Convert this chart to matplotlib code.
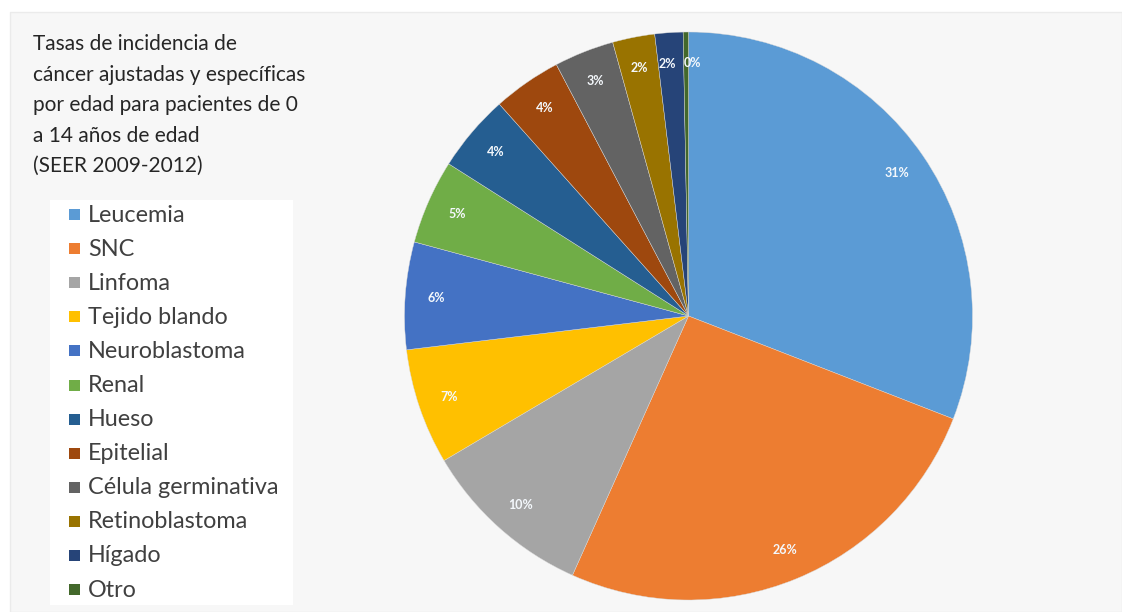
import matplotlib.pyplot as plt
import matplotlib.transforms as mtransforms
from matplotlib.patches import Rectangle

# Data
categories = ['Leucemia', 'SNC', 'Linfoma', 'Tejido blando', 'Neuroblastoma',
              'Renal', 'Hueso', 'Epitelial', 'Célula germinativa',
              'Retinoblastoma', 'Hígado', 'Otro']
shares = [30.9, 25.8, 9.8, 6.6, 6.1, 4.8, 4.4, 3.9, 3.4, 2.4, 1.6, 0.3]
colors = ['#5B9BD5', '#ED7D31', '#A5A5A5', '#FFC000', '#4472C4', '#70AD47',
          '#255E91', '#9E480E', '#636363', '#997300', '#264478', '#43682B']
title = ('Tasas de incidencia de\ncáncer ajustadas y específicas\n'
         'por edad para pacientes de 0\na 14 años de edad\n(SEER 2009-2012)')

W, H = 1122, 612
plt.rcParams['font.family'] = ['Lato', 'DejaVu Sans']

fig = plt.figure(figsize=(W / 100, H / 100), dpi=100, facecolor='white')

# light gray panel behind everything
fig.patches.append(Rectangle((10 / W, 0), 1 - 10 / W, 600 / H,
                             transform=fig.transFigure, facecolor='#f7f7f7',
                             edgecolor='#ebebeb', lw=1.0, zorder=-2))
# white legend panel
fig.patches.append(Rectangle((50 / W, 7 / H), 243 / W, 405 / H,
                             transform=fig.transFigure, facecolor='white',
                             edgecolor='none', zorder=-1))

# pie axes: centre (688, 316 from top), radius 284 px
cx, cy, r = 688.5, H - 316, 284
ax = fig.add_axes([(cx - r) / W, (cy - r) / H, 2 * r / W, 2 * r / H])
ax.set_zorder(2)
ax.patch.set_visible(False)

wedges, _, autotexts = ax.pie(
    shares, colors=colors, startangle=90, counterclock=False, radius=1,
    autopct=lambda p: f'{p:.0f}%', pctdistance=0.89,
    wedgeprops=dict(linewidth=0.3, edgecolor='#d9d9d9'),
    textprops=dict(color='white', fontsize=9, fontweight='bold'))
for t in autotexts:
    t.set_color('#f4f8fc')
# the two thinnest slices: push their labels apart like the original does
autotexts[-2].set_transform(ax.transData + mtransforms.ScaledTranslation(
    -4 / 100, 0, fig.dpi_scale_trans))
autotexts[-1].set_transform(ax.transData + mtransforms.ScaledTranslation(
    6 / 100, 0, fig.dpi_scale_trans))
ax.set_xlim(-1, 1)
ax.set_ylim(-1, 1)
ax.set_aspect('equal')
ax.axis('off')

# title block
fig.text(33 / W, 1 - 34 / H, title, ha='left', va='top', fontsize=15,
         color='#262626', linespacing=1.66)

# legend entries
for i, (name, col) in enumerate(zip(categories, colors)):
    y = 1 - (215 + 34.1 * i) / H
    fig.patches.append(Rectangle((69 / W, y - 5 / H), 11 / W, 11 / H,
                                 transform=fig.transFigure, facecolor=col,
                                 edgecolor='none', zorder=2))
    fig.text(88 / W, y, name, ha='left', va='center', fontsize=16.8,
             color='#404040')

fig.savefig('out.png', dpi=100, facecolor='white')
